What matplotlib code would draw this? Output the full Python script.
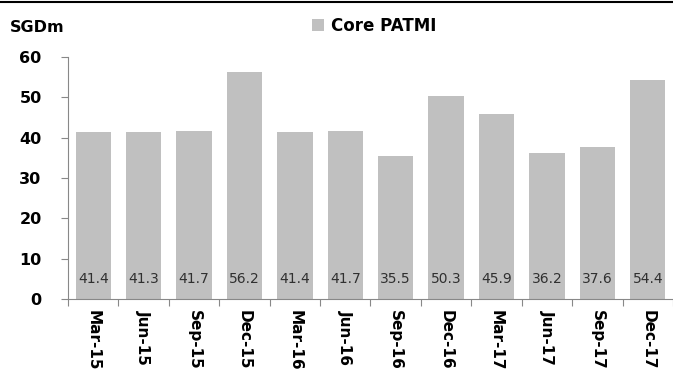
import matplotlib.pyplot as plt
from matplotlib.lines import Line2D

quarters = ['Mar-15', 'Jun-15', 'Sep-15', 'Dec-15', 'Mar-16', 'Jun-16',
            'Sep-16', 'Dec-16', 'Mar-17', 'Jun-17', 'Sep-17', 'Dec-17']
core_patmi = [41.4, 41.3, 41.7, 56.2, 41.4, 41.7, 35.5, 50.3, 45.9, 36.2, 37.6, 54.4]

fig = plt.figure(figsize=(6.73, 3.76), dpi=100)
ax = fig.add_axes([68 / 673, 1 - 299 / 376, 605 / 673, 242 / 376])

x = range(len(quarters))
ax.bar(x, core_patmi, width=0.7, color='#c0c0c0', label='Core PATMI')

# value labels inside bars near the base
for i, v in enumerate(core_patmi):
    ax.text(i, 5, f'{v:.1f}', ha='center', va='center', fontsize=10, color='#303030')

ax.set_xlim(-0.5, len(quarters) - 0.5)
ax.set_ylim(0, 60)
ax.set_yticks(range(0, 61, 10))
ax.tick_params(axis='y', labelsize=11.5, length=5, color='#888888', pad=14)
for lbl in ax.get_yticklabels():
    lbl.set_fontweight('bold')

# category boundary ticks on the x axis
ax.set_xticks([i - 0.5 for i in range(len(quarters) + 1)], minor=False)
ax.set_xticklabels([])
ax.tick_params(axis='x', length=5, color='#888888')
ax.set_xticks(list(x), minor=True)
ax.set_xticklabels(quarters, minor=True, rotation=-90, fontsize=11, fontweight='bold')
ax.tick_params(axis='x', which='minor', length=0, pad=8)

for s in ['top', 'right']:
    ax.spines[s].set_visible(False)
ax.spines['left'].set_color('#888888')
ax.spines['bottom'].set_color('#888888')

fig.text(10 / 673, 1 - 28 / 376, 'SGDm', fontsize=11.5, fontweight='bold', va='center')

ax.legend(loc='center left', bbox_to_anchor=(237 / 605, (299 - 26) / 242), frameon=False,
          prop={'size': 12, 'weight': 'bold'}, handlelength=0.75, handleheight=0.75,
          handletextpad=0.4, borderaxespad=0)

fig.add_artist(Line2D([0, 1], [1 - 1.5 / 376, 1 - 1.5 / 376], color='black', lw=1.5))

fig.savefig('out.png', dpi=100)
